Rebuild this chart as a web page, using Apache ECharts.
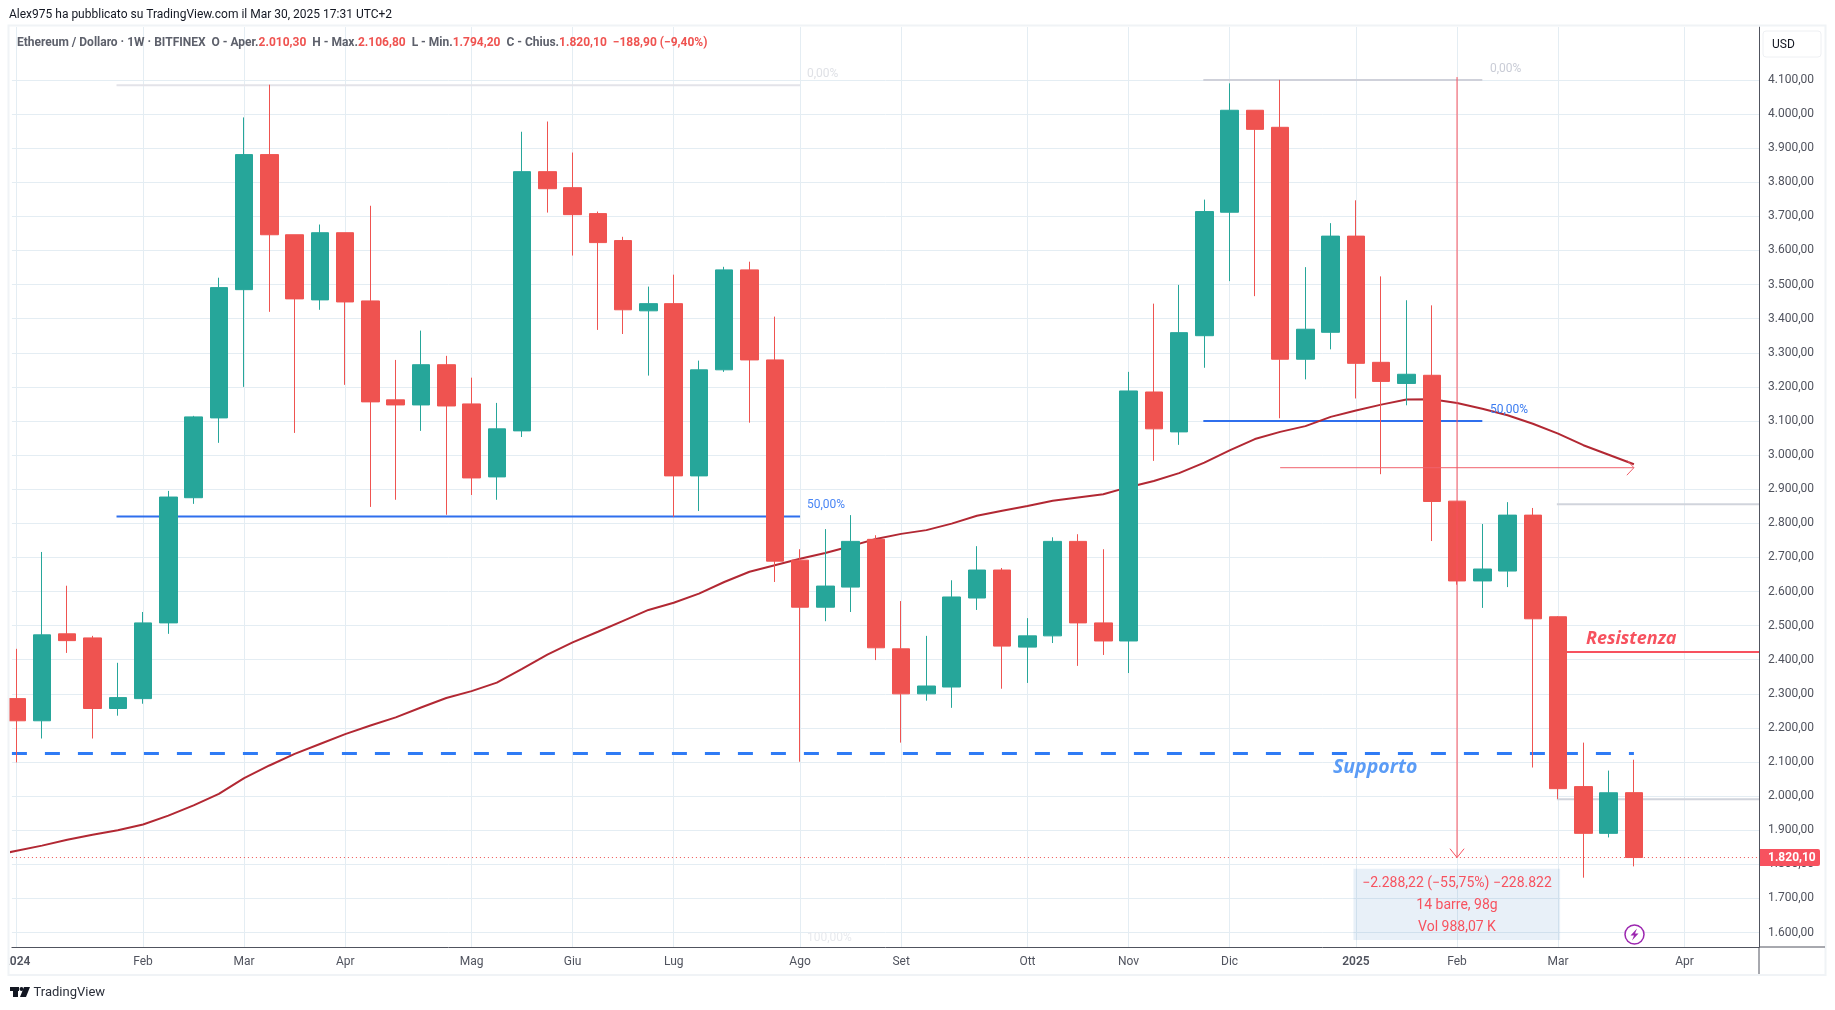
<!DOCTYPE html>
<html>
<head>
<meta charset="utf-8">
<title>Ethereum / Dollaro</title>
<script src="https://cdn.jsdelivr.net/npm/echarts@6/dist/echarts.min.js"></script>
<style>
  html, body { margin: 0; padding: 0; background: #fff; }
  #chart { width: 1835px; height: 1010px; }
</style>
</head>
<body>
<div id="chart"></div>
<script>
// weekly candles (bar number = week count from the left)
const opens = [2286,2221,2476,2464,2257,2286,2508,2875,3109,3485,3881,3646,3455,3652,3452,3162,3147,3265,3150,2936,3071,3831,3784,3708,3629,3423,3444,2939,3250,3543,3279,2692,2554,2613,2753,2432,2300,2320,2581,2663,2437,2470,2747,2508,2455,3185,3068,3350,3712,4011,3961,3281,3360,3642,3272,3210,3234,2865,2631,2660,2824,2526,2028,1891,2010.3];
const closes = [2221,2473,2456,2257,2289,2508,2877,3112,3491,3881,3646,3458,3652,3449,3156,3147,3265,3144,2933,3077,3831,3781,3705,3623,3426,3444,2939,3250,3543,3279,2689,2554,2616,2747,2435,2300,2323,2584,2663,2440,2470,2747,2508,2455,3188,3077,3359,3714,4011,3955,3281,3369,3642,3269,3216,3237,2864,2631,2666,2824,2520,2022,1891,2010,1820.1];
const highs = [2432,2716,2617,2470,2391,2540,2895,3115,3520,3990,4086,3646,3676,3652,3731,3279,3365,3291,3227,3153,3948,3978,3887,3714,3640,3494,3529,3277,3552,3567,3406,2724,2783,2824,2765,2572,2470,2633,2733,2669,2522,2759,2768,2724,3244,3444,3499,3749,4090,4011,4100,3551,3680,3747,3524,3454,3439,2865,2798,2862,2845,2528,2157,2075,2106.8];
const lows = [2099,2169,2420,2169,2236,2271,2476,2857,3036,3200,3420,3065,3426,3206,2848,2869,3071,2825,2883,2869,3053,3711,3585,3367,3355,3233,2819,2836,3244,3095,2628,2101,2513,2540,2399,2157,2280,2259,2546,2315,2332,2449,2382,2414,2361,2983,3030,3256,3510,3466,3108,3222,3310,3166,2944,3146,2748,2620,2552,2613,2084,1992,1761,1879,1794.2];

// red moving average, first point sits one bar left of the first candle
const maValues = [1825,1840,1855,1872,1887,1900,1917,1943,1973,2007,2053,2090,2124,2153,2182,2207,2231,2260,2288,2308,2333,2373,2415,2451,2482,2514,2546,2567,2594,2628,2658,2677,2696,2713,2733,2754,2769,2780,2799,2822,2837,2851,2866,2876,2885,2906,2924,2947,2978,3014,3047,3068,3085,3112,3131,3148,3163,3164,3153,3136,3117,3092,3063,3029,3001,2973];

const monthTicks = [0,5,9,13,18,22,26,31,35,40,44,48,53,57,61,66];
const monthLabels = ['2024','Feb','Mar','Apr','Mag','Giu','Lug','Ago','Set','Ott','Nov','Dic','2025','Feb','Mar','Apr'];
const priceTicks = [1600,1700,1800,1900,2000,2100,2200,2300,2400,2500,2600,2700,2800,2900,3000,3100,3200,3300,3400,3500,3600,3700,3800,3900,4000,4100];

const lastPrice = 1820.1;
const RED = '#ef5350', GREEN = '#26a69a', ALERT = '#f7525f', BLUE = '#2f6fed', GRIDC = '#e4edf3', TEXTC = '#50535e';

const xMin = -0.19, xMax = 68.95;   // visible bars
const yMin = 1557.8, yMax = 4255.1;

function fmtPrice(v) {
  return v.toFixed(2).replace('.', ',').replace(/\B(?=(\d{3})(?!\d))/g, '.');
}

// drawn tool lines, [bar, price]
function hline(name, from, to, price, color, width, type, z) {
  return {
    name, type: 'line', data: [[from, price], [to, price]], symbol: 'none', silent: true, z: z || 1,
    lineStyle: { color, width, type: type || 'solid', cap: 'butt' }
  };
}
function polyline(points, color, z) {
  return { type: 'line', data: points, symbol: 'none', silent: true, z: z || 4, lineStyle: { color, width: 1 } };
}

const chart = echarts.init(document.getElementById('chart'), null, { renderer: 'canvas' });

const candleData = opens.map((o, i) => [i, o, closes[i], lows[i], highs[i]]);
const maData = maValues.map((v, i) => [i - 1, v]);

const option = {
  animation: false,
  backgroundColor: '#ffffff',
  textStyle: { fontFamily: 'Roboto, sans-serif' },
  title: {
    left: 17, top: 37, padding: 0,
    text: '{g|Ethereum / Dollaro · 1W · BITFINEX  O - Aper.}{r|2.010,30}{g|  H - Max.}{r|2.106,80}{g|  L - Min.}{r|1.794,20}{g|  C - Chius.}{r|1.820,10  −188,90 (−9,40%)}',
    textStyle: {
      rich: {
        g: { color: '#5d606b', fontSize: 12, fontFamily: 'Roboto, sans-serif' },
        r: { color: RED, fontSize: 12, fontFamily: 'Roboto, sans-serif' }
      }
    }
  },
  grid: { left: 9.5, right: 1835 - 1759, top: 27, bottom: 1010 - 947 },
  xAxis: {
    type: 'value', min: xMin, max: xMax,
    axisLine: { show: true, onZero: false, lineStyle: { color: TEXTC, width: 1 } },
    axisTick: { show: false, customValues: monthTicks },
    splitLine: { show: true, lineStyle: { color: GRIDC, width: 1 } },
    axisLabel: {
      customValues: monthTicks, color: TEXTC, fontSize: 12, margin: 9, hideOverlap: false,
      formatter: v => {
        const s = monthLabels[monthTicks.indexOf(v)];
        return /^\d/.test(s) ? '{b|' + s + '}' : s;
      },
      rich: { b: { fontWeight: 600, color: TEXTC, fontSize: 12 } }
    }
  },
  yAxis: {
    type: 'value', position: 'right', min: yMin, max: yMax, scale: true,
    axisLine: { show: true, onZero: false, lineStyle: { color: TEXTC, width: 1 } },
    axisTick: { show: false, customValues: priceTicks },
    splitLine: { show: true, lineStyle: { color: GRIDC, width: 1 } },
    axisLabel: { customValues: priceTicks, color: TEXTC, fontSize: 12, margin: 9, verticalAlign: 'middle', padding: [0, 0, 2, 0], formatter: fmtPrice, hideOverlap: false }
  },
  series: [
    hline('fib1-0', 3.95, 31, 4084, '#e3e3e9', 2),
    hline('fib1-50', 3.95, 31, 2820, BLUE, 2),
    hline('fib2-0', 46.96, 58, 4100, '#cfd1da', 2),
    hline('fib2-50', 46.96, 58, 3100, BLUE, 2),
    hline('grey-a', 60.95, xMax, 2856, '#d1d4dc', 2),
    hline('grey-b', 60.95, xMax, 1991, '#d1d4dc', 2),
    hline('resistenza', 61, xMax, 2423, ALERT, 2),
    {
      name: 'supporto', type: 'line', data: [[xMin, 2125], [64, 2125]], symbol: 'none', silent: true, z: 1,
      lineStyle: { color: '#2f7bf5', width: 3, type: [15, 18], cap: 'butt' }
    },
    {
      name: 'MA', type: 'line', data: maData, symbol: 'none', silent: true, z: 1,
      lineStyle: { color: '#b22833', width: 2 }
    },
    {
      name: 'ETH', type: 'candlestick', data: candleData, barWidth: 18, z: 2, silent: true,
      encode: { x: 0, y: [1, 2, 3, 4] },
      itemStyle: { color: GREEN, color0: RED, borderColor: GREEN, borderColor0: RED, borderWidth: 1 }
    },
    hline('last', xMin, xMax, lastPrice, RED, 1, [1, 3], 3),
    hline('arrow-h', 50, 64, 2963, '#f0616d', 1, 'solid', 4),
    polyline([[63.72, 2985], [64, 2963], [63.72, 2941]], '#f0616d'),
    { type: 'line', data: [[57, 4108.3], [57, lastPrice]], symbol: 'none', silent: true, z: 4, lineStyle: { color: ALERT, width: 1 } },
    polyline([[56.72, 1846], [57, lastPrice], [57.28, 1846]], ALERT),
    {
      type: 'line', data: [], silent: true, z: 5,
      markArea: {
        silent: true,
        itemStyle: { color: 'rgba(41,120,190,0.11)' },
        data: [[{ coord: [52.9, 1787] }, { coord: [61.08, 1578] }]]
      }
    }
  ],
  graphic: [
    // frame around the pane, and what sticks out of the axes
    { type: 'rect', z: 50, shape: { x: 0, y: 0, width: 8.5, height: 975 }, style: { fill: '#fff' } },
    { type: 'rect', z: 51, shape: { x: 8.5, y: 25.5, width: 1817, height: 949.5 }, style: { fill: 'none', stroke: '#f0f3f6', lineWidth: 2 } },
    { type: 'line', z: 52, shape: { x1: 1759, y1: 947, x2: 1825, y2: 947 }, style: { stroke: TEXTC, lineWidth: 1 } },
    { type: 'line', z: 52, shape: { x1: 1759, y1: 947, x2: 1759, y2: 974 }, style: { stroke: TEXTC, lineWidth: 1 } },

    { type: 'text', z: 60, style: { x: 9, y: 15, text: 'Alex975 ha pubblicato su TradingView.com il Mar 30, 2025 17:31 UTC+2', fill: '#131722', font: '12px Roboto, sans-serif', verticalAlign: 'middle' } },

    { type: 'text', z: 60, style: { x: 807, y: 74, text: '0,00%', fill: '#dfe1e6', font: '12px Roboto, sans-serif', verticalAlign: 'middle' } },
    { type: 'text', z: 60, style: { x: 807, y: 505, text: '50,00%', fill: '#4a86f5', font: '12px Roboto, sans-serif', verticalAlign: 'middle' } },
    { type: 'text', z: 60, style: { x: 807, y: 938, text: '100,00%', fill: '#e8eaee', font: '12px Roboto, sans-serif', verticalAlign: 'middle' } },
    { type: 'text', z: 60, style: { x: 1490, y: 69, text: '0,00%', fill: '#c9ccd6', font: '12px Roboto, sans-serif', verticalAlign: 'middle' } },
    { type: 'text', z: 60, style: { x: 1490, y: 410, text: '50,00%', fill: '#3a7bf0', font: '12px Roboto, sans-serif', verticalAlign: 'middle' } },

    { type: 'text', z: 60, style: { x: 1586, y: 639, text: 'Resistenza', fill: ALERT, font: 'italic bold 18px "Open Sans", sans-serif', verticalAlign: 'middle' } },
    { type: 'text', z: 60, style: { x: 1333, y: 767, text: 'Supporto', fill: '#5b9cf6', font: 'italic bold 19.5px "Open Sans", sans-serif', verticalAlign: 'middle' } },

    { type: 'text', z: 60, style: { x: 1457, y: 883, text: '−2.288,22 (−55,75%) −228.822', fill: ALERT, font: '14px Roboto, sans-serif', align: 'center', verticalAlign: 'middle' } },
    { type: 'text', z: 60, style: { x: 1457, y: 905, text: '14 barre, 98g', fill: ALERT, font: '14px Roboto, sans-serif', align: 'center', verticalAlign: 'middle' } },
    { type: 'text', z: 60, style: { x: 1457, y: 927, text: 'Vol 988,07 K', fill: ALERT, font: '14px Roboto, sans-serif', align: 'center', verticalAlign: 'middle' } },

    // last price tag on the scale
    { type: 'rect', z: 60, shape: { x: 1760, y: 849, width: 60, height: 17, r: [0, 2, 2, 0] }, style: { fill: ALERT } },
    { type: 'text', z: 61, style: { x: 1768, y: 857.5, text: fmtPrice(lastPrice), fill: '#fff', font: 'bold 12px Roboto, sans-serif', verticalAlign: 'middle' } },

    // currency button
    { type: 'rect', z: 60, shape: { x: 1763, y: 31, width: 58, height: 26, r: 3 }, style: { fill: '#fff', stroke: '#eef0f3', lineWidth: 1 } },
    { type: 'text', z: 61, style: { x: 1772, y: 44.5, text: 'USD', fill: '#131722', font: '12px Roboto, sans-serif', verticalAlign: 'middle' } },

    // bolt marker
    { type: 'circle', z: 60, shape: { cx: 1634.5, cy: 934.5, r: 9.5 }, style: { fill: '#fff', stroke: '#9c27b0', lineWidth: 1.5 } },
    { type: 'polygon', z: 61, shape: { points: [[1637, 928.5], [1630.5, 935.5], [1634, 935.5], [1632, 940.5], [1638.5, 933.5], [1635, 933.5]] }, style: { fill: '#9c27b0' } },

    // TradingView mark
    { type: 'rect', z: 60, shape: { x: 10, y: 987, width: 9, height: 4 }, style: { fill: '#131722' } },
    { type: 'rect', z: 60, shape: { x: 13, y: 987, width: 5, height: 10 }, style: { fill: '#131722' } },
    { type: 'circle', z: 60, shape: { cx: 21.5, cy: 989, r: 2 }, style: { fill: '#131722' } },
    { type: 'polygon', z: 60, shape: { points: [[24, 987], [30, 987], [26, 997], [20, 997]] }, style: { fill: '#131722' } },
    { type: 'text', z: 60, style: { x: 33.5, y: 992.5, text: 'TradingView', fill: '#2a2e39', font: '13px Roboto, sans-serif', verticalAlign: 'middle' } }
  ]
};

chart.setOption(option);
</script>
</body>
</html>
